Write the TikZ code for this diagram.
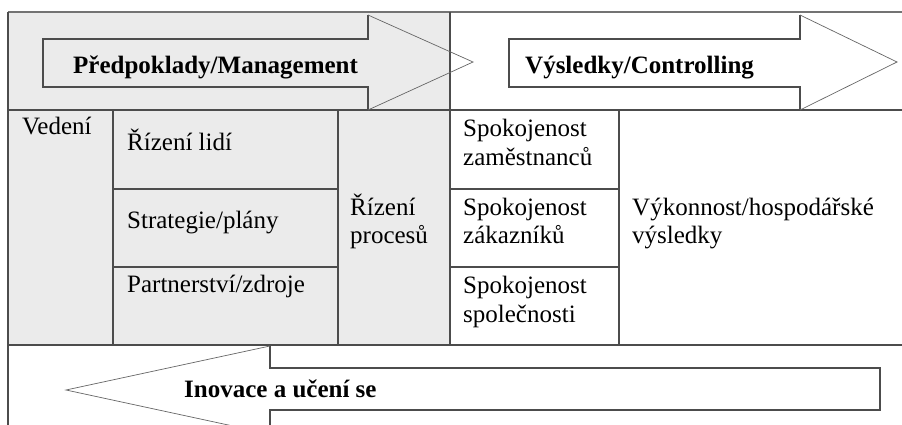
\documentclass[tikz,border=0pt]{standalone}
\usepackage{fontspec}
\setmainfont{Liberation Serif}
\begin{document}
\begin{tikzpicture}[x=1pt,y=-1pt,
  gridline/.style={draw=black!70, line width=1.2pt},
  frameline/.style={draw=black!55, line width=2pt},
  arrowbody/.style={draw=black!70, line width=1.2pt, line join=miter},
  arrowhead/.style={draw=black!60, line width=0.7pt},
  txt/.style={anchor=base west, inner sep=0pt, font=\fontsize{25}{29}\selectfont},
  btxt/.style={anchor=base west, inner sep=0pt, font=\fontsize{25}{29}\selectfont\bfseries}]
\useasboundingbox (0,0) rectangle (902,425);
\clip (0,0) rectangle (902,425);
\definecolor{cellgray}{HTML}{EBEBEB}
% background
\fill[white] (0,0) rectangle (902,425);
\fill[cellgray] (8,12) rectangle (450,345);
% grid
\draw[frameline] (8,12) -- (902,12);
\draw[gridline] (8,12) -- (8,425);
\draw[gridline] (8,110) -- (902,110);
\draw[gridline] (8,345) -- (902,345);
\draw[gridline] (450,12) -- (450,345);
\draw[gridline] (113,110) -- (113,345);
\draw[gridline] (338,110) -- (338,345);
\draw[gridline] (619,110) -- (619,345);
\draw[gridline] (113,189) -- (338,189);
\draw[gridline] (113,267) -- (338,267);
\draw[gridline] (450,189) -- (619,189);
\draw[gridline] (450,267) -- (619,267);
% arrow 1
\draw[arrowbody] (368,15) -- (368,39) -- (43,39) -- (43,87) -- (368,87) -- (368,110);
\draw[arrowhead] (368,15) -- (473,62) -- (368,110);
% arrow 2
\draw[arrowbody] (800,15) -- (800,39) -- (509,39) -- (509,87) -- (800,87) -- (800,110);
\draw[arrowhead] (800,15) -- (897,62) -- (800,110);
% arrow 3
\draw[arrowbody] (270,346) -- (270,368) -- (880,368) -- (880,410) -- (270,410) -- (270,434);
\draw[arrowhead] (270,346) -- (66,390) -- (270,434);
% texts
\node[btxt] (pm) at (73,74) {Předpoklady/Management};
\node[btxt] (vc) at (525,74) {Výsledky/Controlling};
\node[btxt] (iu) at (184,397) {Inovace a učení se};
\node[txt] (ved) at (22,135) {Vedení};
\node[txt] (rl) at (127,150) {Řízení lidí};
\node[txt] (sp) at (127,228) {Strategie/plány};
\node[txt] (pz) at (127,292) {Partnerství/zdroje};
\node[txt] (rp1) at (350,215) {Řízení};
\node[txt] (rp2) at (350,243) {procesů};
\node[txt] (sz1) at (463,137) {Spokojenost};
\node[txt] (sz2) at (463,165) {zaměstnanců};
\node[txt] (sk1) at (463,215) {Spokojenost};
\node[txt] (sk2) at (463,243) {zákazníků};
\node[txt] (ss1) at (463,293) {Spokojenost};
\node[txt] (ss2) at (463,322) {společnosti};
\node[txt] (vh1) at (632,215) {Výkonnost/hospodářské};
\node[txt] (vh2) at (632,243) {výsledky};
\end{tikzpicture}
\end{document}
